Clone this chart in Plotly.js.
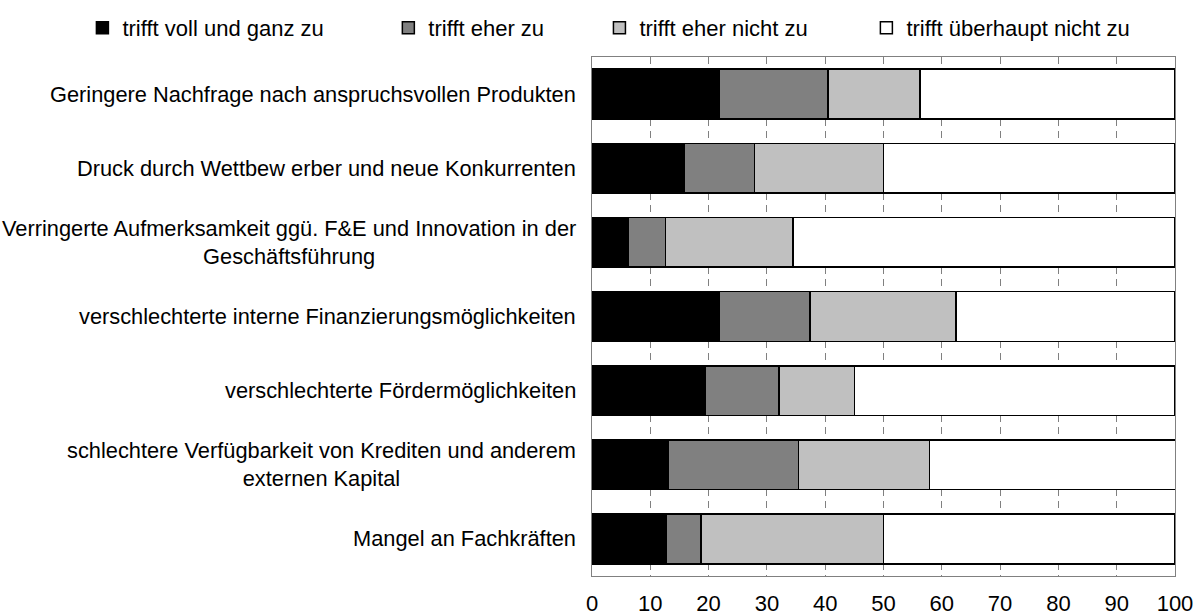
<!DOCTYPE html>
<html>
<head>
<meta charset="utf-8">
<script src="https://cdn.plot.ly/plotly-3.0.1.min.js"></script>
<style>html,body{margin:0;padding:0;background:#fff;}#chart{width:1196px;height:615px;}</style>
</head>
<body>
<div id="chart"></div>
<script>
const categories = [
  "Geringere Nachfrage nach anspruchsvollen Produkten",
  "Druck durch Wettbew erber und neue Konkurrenten",
  "Verringerte Aufmerksamkeit ggü. F&E und Innovation in der<br>Geschäftsführung",
  "verschlechterte interne Finanzierungsmöglichkeiten",
  "verschlechterte Fördermöglichkeiten",
  "schlechtere Verfügbarkeit von Krediten und anderem<br>externen Kapital",
  "Mangel an Fachkräften"
];
const seriesNames = ["trifft voll und ganz zu", "trifft eher zu", "trifft eher nicht zu", "trifft überhaupt nicht zu"];
const vollUndGanz = [21.9, 15.8, 6.3, 21.9, 19.5, 13.1, 12.7];
const eher = [18.6, 12.1, 6.3, 15.5, 12.6, 22.3, 6.0];
const eherNicht = [15.8, 22.1, 21.9, 25.0, 12.9, 22.5, 31.3];
const ueberhauptNicht = [43.7, 50.0, 65.5, 37.6, 55.0, 42.9, 50.0];
const xTicks = [0, 10, 20, 30, 40, 50, 60, 70, 80, 90, 100];

const colors = ["#000000", "#808080", "#c0c0c0", "#ffffff"];
const values = [vollUndGanz, eher, eherNicht, ueberhauptNicht];
const legendIds = ["legend", "legend2", "legend3", "legend4"];
const legendX = [0.0689, 0.3247, 0.5012, 0.7244];

const traces = values.map((v, i) => ({
  type: "bar",
  orientation: "h",
  name: seriesNames[i],
  x: v,
  y: categories,
  marker: { color: colors[i], line: { color: "#000000", width: 1.5 } },
  legend: legendIds[i],
  hoverinfo: "x+name"
}));

const fontFamily = "Liberation Sans, Arial, sans-serif";
const font = { family: fontFamily, size: 22, color: "#000" };
const labelFont = { family: fontFamily, size: 21.8, color: "#000" };
const layout = {
  width: 1196, height: 615,
  margin: { l: 592, r: 21, t: 57, b: 39 },
  barmode: "stack",
  bargap: 0.33,
  paper_bgcolor: "#fff", plot_bgcolor: "#fff",
  font: font,
  showlegend: true,
  xaxis: {
    range: [0, 100],
    tickvals: xTicks,
    ticktext: xTicks.map(String),
    showgrid: true,
    gridcolor: "#808080",
    gridwidth: 1,
    griddash: "7px,55px,7px,5px",
    zeroline: false,
    showline: true, mirror: true, linecolor: "#808080", linewidth: 1,
    ticks: "",
    ticklabelstandoff: 8,
    tickfont: font,
    fixedrange: true
  },
  yaxis: {
    autorange: "reversed",
    showline: true, mirror: true, linecolor: "#808080", linewidth: 1,
    ticks: "",
    showticklabels: false,
    showgrid: false,
    fixedrange: true
  },
  annotations: categories.map(c => ({
    text: c,
    x: 0, xref: "paper", xanchor: "right", xshift: -14,
    y: c, yref: "y", yanchor: "middle",
    align: "center",
    showarrow: false,
    font: labelFont
  }))
};
legendIds.forEach((id, i) => {
  layout[id] = {
    x: legendX[i], xref: "container", xanchor: "left",
    y: 1 - 28 / 615, yref: "container", yanchor: "middle",
    orientation: "h",
    font: font,
    bgcolor: "rgba(0,0,0,0)",
    itemwidth: 30
  };
});

Plotly.newPlot("chart", traces, layout, { displayModeBar: false, staticPlot: true });
</script>
</body>
</html>
